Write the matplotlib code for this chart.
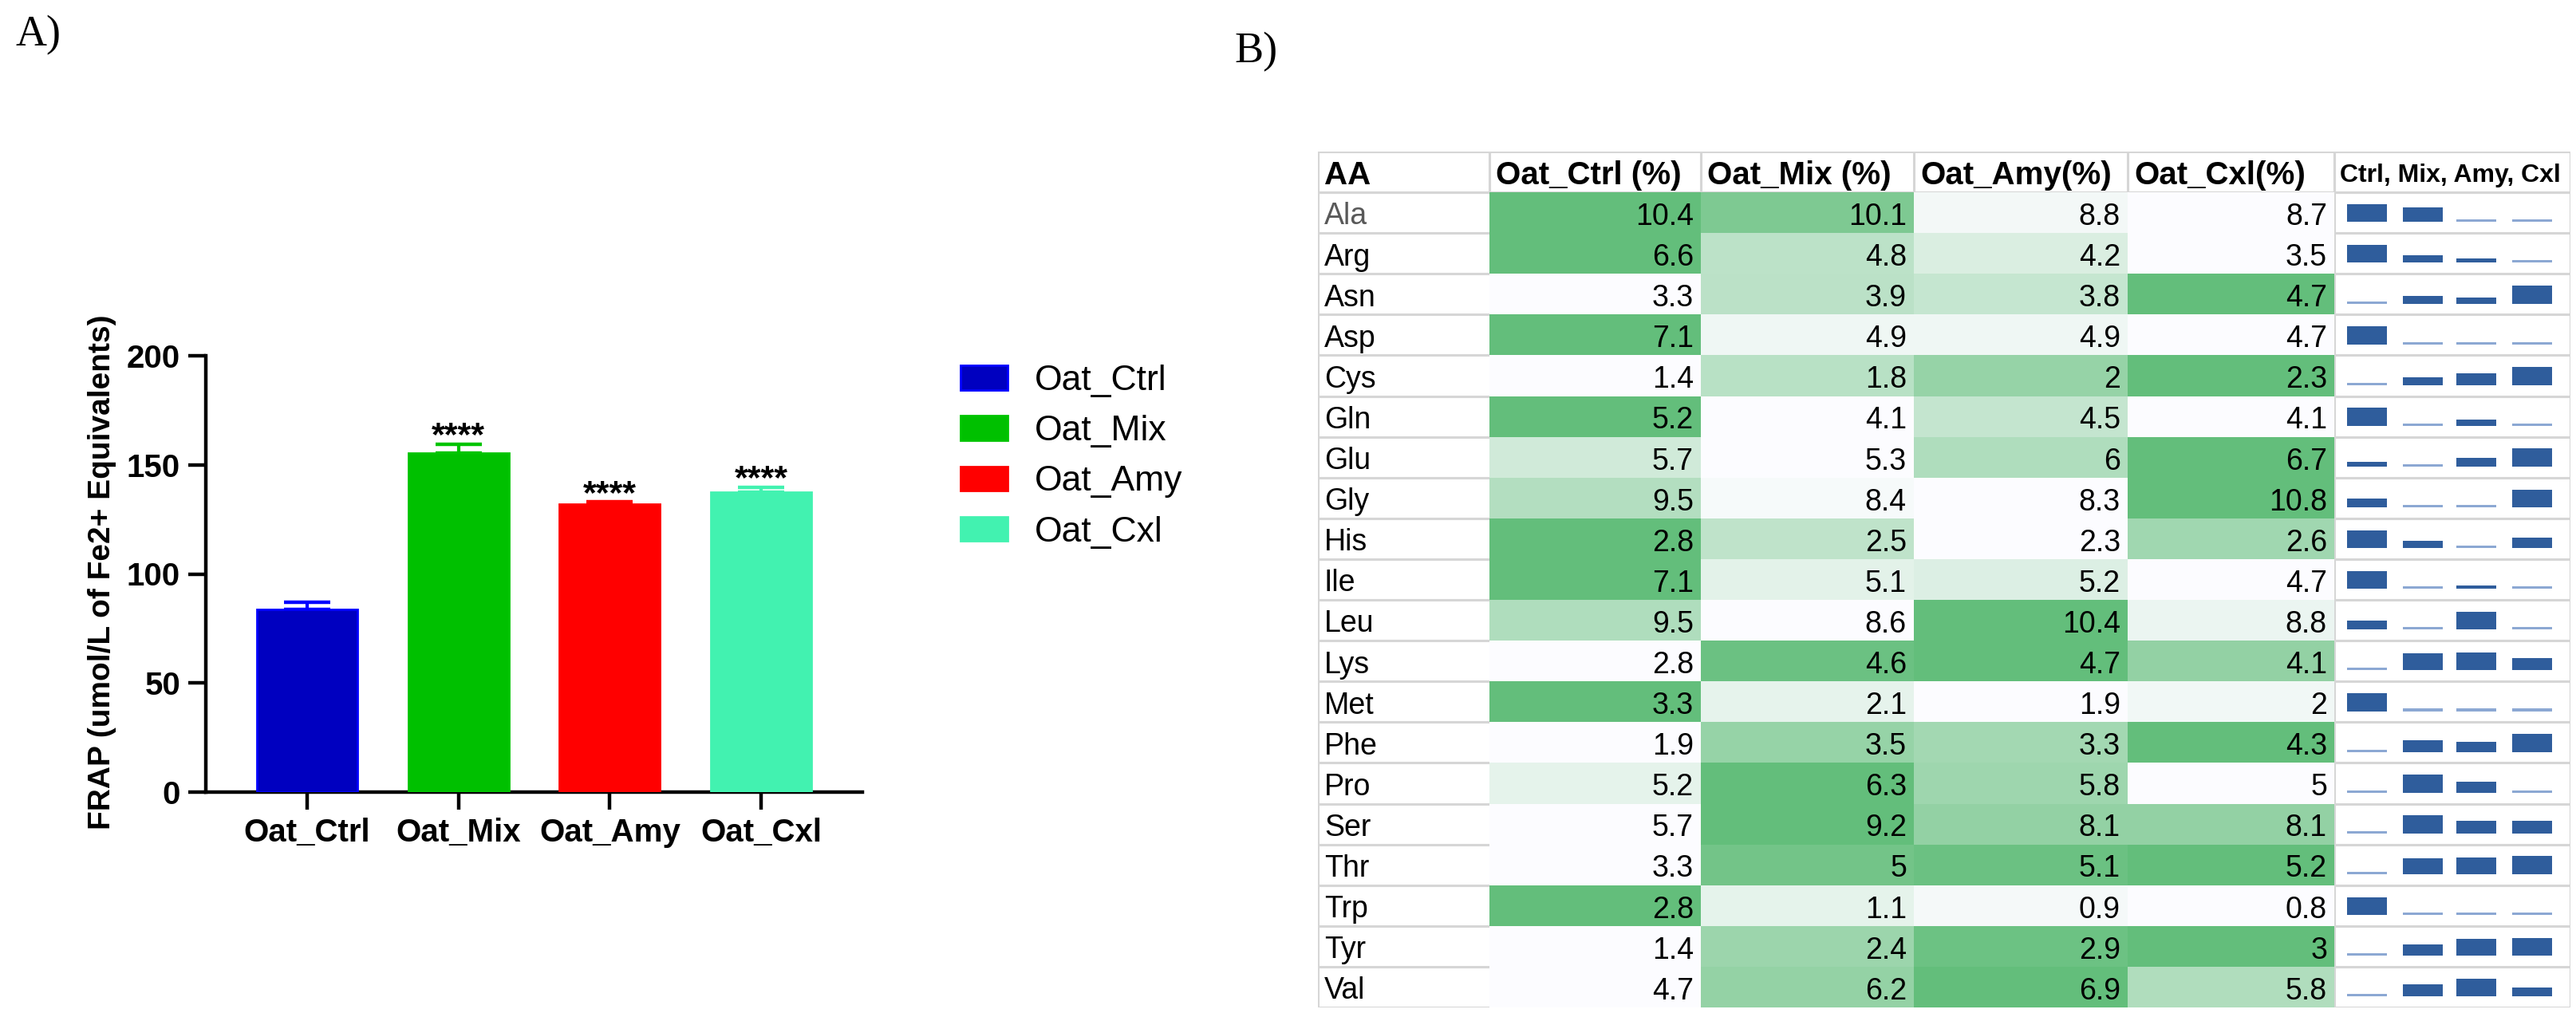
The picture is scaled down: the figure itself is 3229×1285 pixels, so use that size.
import matplotlib
matplotlib.use('Agg')
import matplotlib.pyplot as plt
from matplotlib.patches import Patch
from matplotlib.colors import LinearSegmentedColormap
import numpy as np

plt.rcParams['font.family'] = ['Liberation Sans', 'DejaVu Sans']

# ---------------- data: panel A ----------------
groups = ['Oat_Ctrl', 'Oat_Mix', 'Oat_Amy', 'Oat_Cxl']
frap_mean = [83.7, 155.5, 132.0, 137.3]
frap_err = [3.3, 4.0, 1.0, 2.3]
signif = ['', '****', '****', '****']
y_ticks = [0, 50, 100, 150, 200]
y_label = 'FRAP (umol/L of Fe2+ Equivalents)'

# ---------------- data: panel B ----------------
aa = ['Ala', 'Arg', 'Asn', 'Asp', 'Cys', 'Gln', 'Glu', 'Gly', 'His', 'Ile',
      'Leu', 'Lys', 'Met', 'Phe', 'Pro', 'Ser', 'Thr', 'Trp', 'Tyr', 'Val']
oat_ctrl = [10.4, 6.6, 3.3, 7.1, 1.4, 5.2, 5.7, 9.5, 2.8, 7.1,
            9.5, 2.8, 3.3, 1.9, 5.2, 5.7, 3.3, 2.8, 1.4, 4.7]
oat_mix = [10.1, 4.8, 3.9, 4.9, 1.8, 4.1, 5.3, 8.4, 2.5, 5.1,
           8.6, 4.6, 2.1, 3.5, 6.3, 9.2, 5, 1.1, 2.4, 6.2]
oat_amy = [8.8, 4.2, 3.8, 4.9, 2, 4.5, 6, 8.3, 2.3, 5.2,
           10.4, 4.7, 1.9, 3.3, 5.8, 8.1, 5.1, 0.9, 2.9, 6.9]
oat_cxl = [8.7, 3.5, 4.7, 4.7, 2.3, 4.1, 6.7, 10.8, 2.6, 4.7,
           8.8, 4.1, 2, 4.3, 5, 8.1, 5.2, 0.8, 3, 5.8]
col_headers = ['AA', 'Oat_Ctrl (%)', 'Oat_Mix (%)', 'Oat_Amy(%)', 'Oat_Cxl(%)',
               'Ctrl, Mix, Amy, Cxl']

# ---------------- styles ----------------
bar_fill = ['#0000C0', '#00C000', '#FF0000', '#42F2B0']
bar_edge = ['#0000FF', '#00C400', '#FF0000', '#42F2B0']
heat_cmap = LinearSegmentedColormap.from_list('wg', ['#FCFCFF', '#63BE7B'])
spark_dark = '#2F5D9C'
spark_light = '#8CA8D3'
grid_col = '#D6D6D6'

W, H = 3230, 1285
fig = plt.figure(figsize=(W / 100, H / 100), dpi=100)

# ================= Panel A =================
ax = fig.add_axes([258 / W, (H - 993) / H, 823 / W, 547 / H])
x = np.arange(len(groups))
ax.bar(x, frap_mean, width=0.665, color=bar_fill, edgecolor=bar_edge,
       linewidth=2, zorder=3)
for i in range(len(groups)):
    ax.errorbar(x[i], frap_mean[i], yerr=[[0], [frap_err[i]]], fmt='none',
                ecolor=bar_edge[i], elinewidth=3, capsize=21, capthick=3.2,
                zorder=2)
    if signif[i]:
        ax.text(x[i], frap_mean[i] + frap_err[i] - 0.5, signif[i], ha='center',
                va='baseline', fontsize=31, fontweight='bold')

ax.set_xlim(-0.669, 3.669)
ax.set_ylim(0, 200)
for s in ['top', 'right']:
    ax.spines[s].set_visible(False)
for s in ['left', 'bottom']:
    ax.spines[s].set_linewidth(3.2)
ax.set_yticks(y_ticks)
ax.set_xticks(x)
ax.set_xticklabels(groups, fontsize=29, fontweight='bold')
ax.set_yticklabels([str(t) for t in y_ticks], fontsize=29, fontweight='bold')
ax.tick_params(axis='both', length=16, width=3.2, direction='out')
ax.tick_params(axis='y', pad=7)
ax.tick_params(axis='x', pad=7)
ax.set_ylabel(y_label, fontsize=28, fontweight='bold')
ax.yaxis.set_label_coords(-0.136, 0.505)

handles = [Patch(facecolor=bar_fill[i], edgecolor=bar_edge[i], linewidth=2)
           for i in range(len(groups))]
ax.legend(handles, groups, loc='upper left',
          bbox_to_anchor=(1204 / W, 1 - 457 / H), bbox_transform=fig.transFigure,
          frameon=False, fontsize=32, handlelength=1.33, handleheight=0.675,
          handletextpad=0.77, labelspacing=0.5, borderpad=0, borderaxespad=0)

# ================= Panel B (table) =================
tx0, tx1, ty0, ty1 = 1652, 3222, 190, 1263
axt = fig.add_axes([tx0 / W, (H - ty1) / H, (tx1 - tx0) / W, (ty1 - ty0) / H])
nrows = len(aa) + 1
axt.set_xlim(0, tx1 - tx0)
axt.set_ylim(nrows, 0)
axt.axis('off')

col_edges = [0, 215, 480, 747, 1015, 1274, 1570]
vals = np.array([oat_ctrl, oat_mix, oat_amy, oat_cxl]).T
rmin = vals.min(axis=1, keepdims=True)
rmax = vals.max(axis=1, keepdims=True)
frac = (vals - rmin) / (rmax - rmin)

axt.pcolormesh(col_edges[1:6], np.arange(1, nrows + 1), frac, cmap=heat_cmap,
               vmin=0, vmax=1, shading='flat', zorder=1)

# grid lines
for r in range(nrows + 1):
    axt.plot([col_edges[0], col_edges[1]], [r, r], color=grid_col, lw=2.2, zorder=0.5)
    axt.plot([col_edges[5], col_edges[6]], [r, r], color=grid_col, lw=2.2, zorder=0.5)
for r in [0, 1]:
    axt.plot([col_edges[0], col_edges[6]], [r, r], color=grid_col, lw=2.2, zorder=0.5)
for xe in col_edges:
    axt.plot([xe, xe], [0, 1], color=grid_col, lw=2.2, zorder=0.5)
for xe in [col_edges[0], col_edges[5], col_edges[6]]:
    axt.plot([xe, xe], [0, nrows], color=grid_col, lw=2.2, zorder=0.5)

# header
for i, h in enumerate(col_headers):
    if i < 5:
        axt.text(col_edges[i] + 8, 0.80, h, ha='left', va='baseline',
                 fontsize=29, fontweight='bold', zorder=3)
    else:
        axt.text(col_edges[i] + 7, 0.74, h, ha='left', va='baseline',
                 fontsize=23, fontweight='bold', zorder=3)

# body
spark_x = [1315, 1385, 1452, 1522]
hmax, thin = 0.44, 0.06
for r, name in enumerate(aa):
    yb = r + 1
    axt.text(8, yb + 0.79, name, ha='left', va='baseline', fontsize=27,
             color='#595959' if r == 0 else 'black', zorder=3)
    for c in range(4):
        axt.text(col_edges[c + 2] - 9, yb + 0.80, f'{vals[r, c]:g}', ha='right',
                 va='baseline', fontsize=27, zorder=3)
    hts = frac[r] * hmax
    small = hts < thin * 1.5
    hts = np.where(small, thin, hts)
    cols = [spark_light if s else spark_dark for s in small]
    axt.bar(spark_x, -hts, bottom=yb + 0.73, width=50, color=cols, zorder=2)

# panel letters
fig.text(20 / W, 1 - 57 / H, 'A)', family=['Liberation Serif', 'DejaVu Serif'],
         fontsize=39, va='baseline', ha='left')
fig.text(1547 / W, 1 - 78 / H, 'B)', family=['Liberation Serif', 'DejaVu Serif'],
         fontsize=39, va='baseline', ha='left')

fig.savefig('out.png', dpi=100)
